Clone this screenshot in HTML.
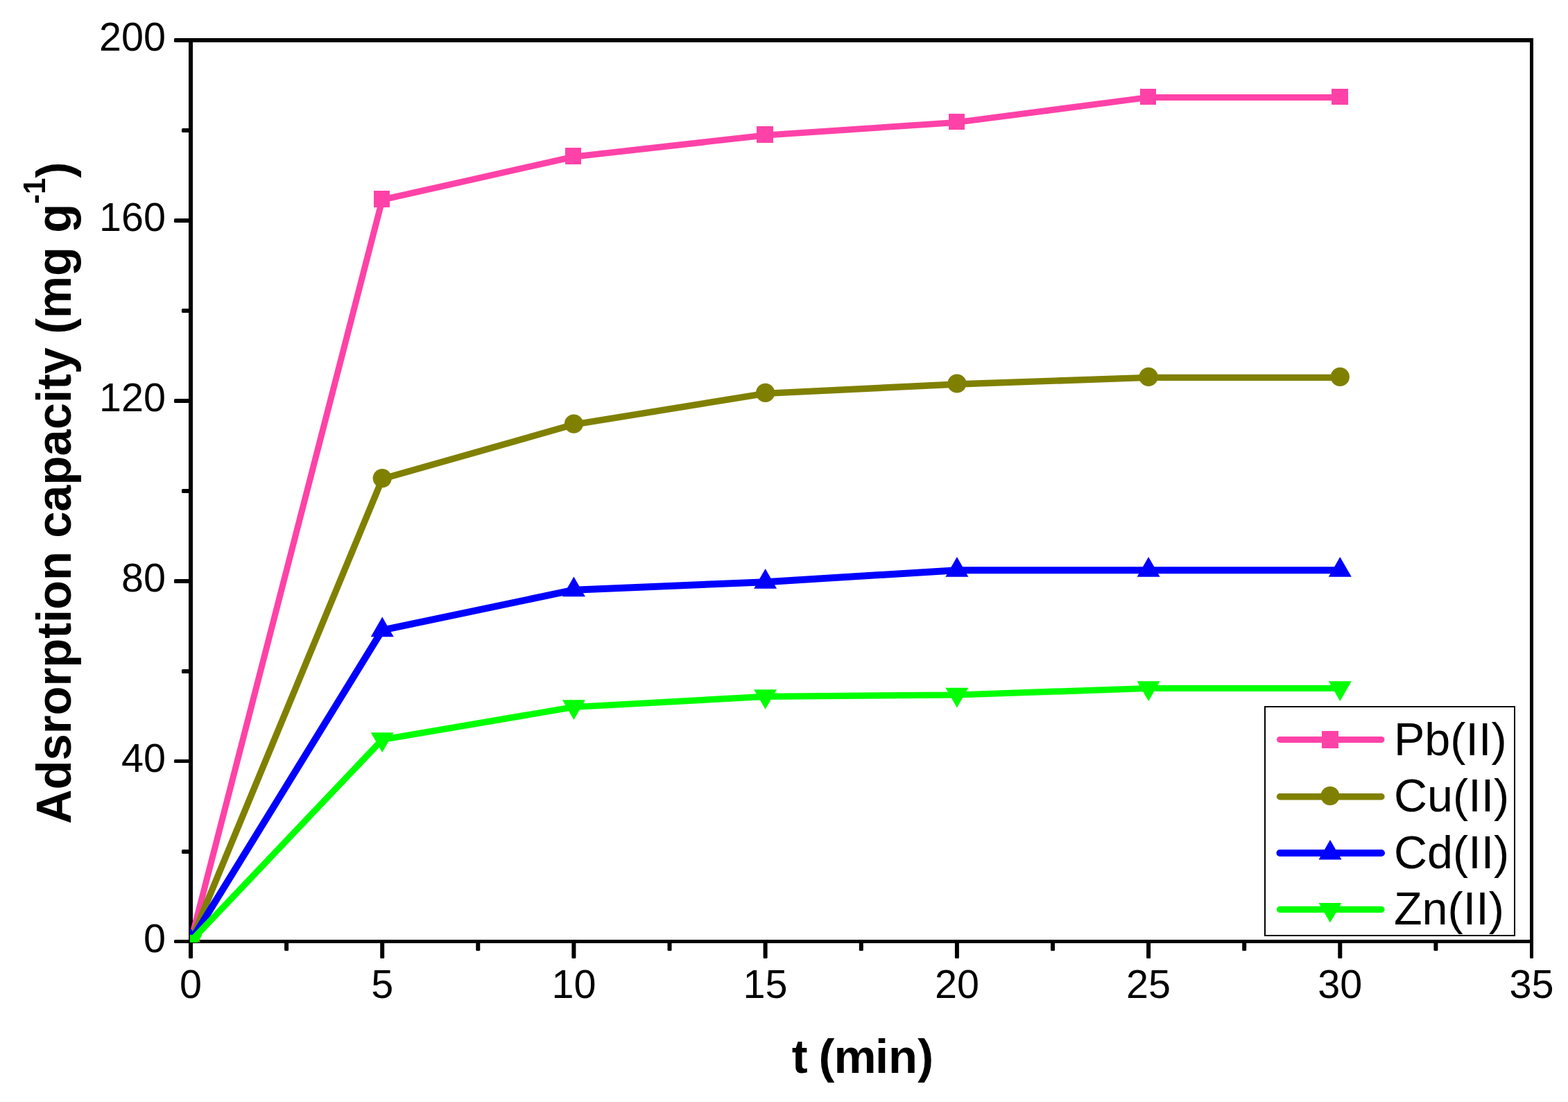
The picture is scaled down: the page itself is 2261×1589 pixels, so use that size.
<!DOCTYPE html>
<html lang="en">
<head>
<meta charset="utf-8">
<title>Adsorption capacity vs t</title>
<style>
html,body{margin:0;padding:0;background:#fff;}
body{width:2261px;height:1589px;overflow:hidden;}
svg{display:block;}
text{font-family:"Liberation Sans",Arial,Helvetica,sans-serif;fill:#000;}
.tick{font-size:57.5px;}
.leg{font-size:66.5px;}
.ttl{font-size:68.7px;font-weight:bold;}
.sup{font-size:42px;font-weight:bold;}
</style>
</head>
<body>
<svg width="2261" height="1589" viewBox="0 0 2261 1589">
<rect x="0" y="0" width="2261" height="1589" fill="#ffffff"/>
<defs><clipPath id="plotclip"><rect x="274" y="50" width="1940" height="1309"/></clipPath></defs>

<g fill="#000" shape-rendering="crispEdges">
<rect x="272" y="55" width="6" height="1305"/>
<rect x="272" y="55" width="1939" height="6"/>
<rect x="2206" y="55" width="5" height="1305"/>
<rect x="272" y="1355" width="1939" height="5"/>
</g>
<g fill="#000">
<rect x="251" y="1355" width="24" height="5" rx="1.5" ry="1.5"/>
<rect x="262" y="1225" width="13" height="6" rx="1.5" ry="1.5"/>
<rect x="251" y="1095" width="24" height="5" rx="1.5" ry="1.5"/>
<rect x="262" y="965" width="13" height="6" rx="1.5" ry="1.5"/>
<rect x="251" y="835" width="24" height="6" rx="1.5" ry="1.5"/>
<rect x="262" y="705" width="13" height="6" rx="1.5" ry="1.5"/>
<rect x="251" y="575" width="24" height="6" rx="1.5" ry="1.5"/>
<rect x="262" y="445" width="13" height="6" rx="1.5" ry="1.5"/>
<rect x="251" y="315" width="24" height="6" rx="1.5" ry="1.5"/>
<rect x="262" y="185" width="13" height="6" rx="1.5" ry="1.5"/>
<rect x="251" y="55" width="24" height="6" rx="1.5" ry="1.5"/>
<rect x="272.0" y="1357" width="6" height="25" rx="1.5" ry="1.5"/>
<rect x="410.1" y="1357" width="6" height="14" rx="1.5" ry="1.5"/>
<rect x="548.2" y="1357" width="6" height="25" rx="1.5" ry="1.5"/>
<rect x="686.3" y="1357" width="6" height="14" rx="1.5" ry="1.5"/>
<rect x="824.4" y="1357" width="6" height="25" rx="1.5" ry="1.5"/>
<rect x="962.5" y="1357" width="6" height="14" rx="1.5" ry="1.5"/>
<rect x="1100.6" y="1357" width="6" height="25" rx="1.5" ry="1.5"/>
<rect x="1238.8" y="1357" width="6" height="14" rx="1.5" ry="1.5"/>
<rect x="1376.9" y="1357" width="6" height="25" rx="1.5" ry="1.5"/>
<rect x="1515.0" y="1357" width="6" height="14" rx="1.5" ry="1.5"/>
<rect x="1653.1" y="1357" width="6" height="25" rx="1.5" ry="1.5"/>
<rect x="1791.2" y="1357" width="6" height="14" rx="1.5" ry="1.5"/>
<rect x="1929.3" y="1357" width="6" height="25" rx="1.5" ry="1.5"/>
<rect x="2067.4" y="1357" width="6" height="14" rx="1.5" ry="1.5"/>
<rect x="2206.0" y="1357" width="5" height="25" rx="1.5" ry="1.5"/>
</g>
<g class="tick" text-anchor="end">
<text x="239" y="1372.8">0</text>
<text x="239" y="1112.9">40</text>
<text x="239" y="853.0">80</text>
<text x="239" y="593.1">120</text>
<text x="239" y="333.2">160</text>
<text x="239" y="73.3">200</text>
</g>
<g class="tick" text-anchor="middle">
<text x="275.0" y="1438.5">0</text>
<text x="551.2" y="1438.5">5</text>
<text x="827.4" y="1438.5">10</text>
<text x="1103.6" y="1438.5">15</text>
<text x="1379.9" y="1438.5">20</text>
<text x="1656.1" y="1438.5">25</text>
<text x="1932.3" y="1438.5">30</text>
<text x="2208.5" y="1438.5">35</text>
</g>
<text class="ttl" x="1141.8 1164 1180.4 1202.4 1261.9 1281.1 1323.2" y="1547">t (min)</text>
<text class="ttl" transform="translate(102.1 1188) rotate(-90) scale(1 1.035)" x="0" y="0">Adsrorption capacity (mg <tspan dx="1">g</tspan><tspan class="sup" dy="-35.7">-1</tspan><tspan dy="35.7">)</tspan></text>
<g clip-path="url(#plotclip)">
<polyline points="275.0,1357.5 551.2,288.0 827.4,226.0 1103.6,195.0 1379.9,176.4 1656.1,140.4 1932.3,140.4" fill="none" stroke="#ff42a8" stroke-width="9" stroke-linejoin="round"/>
<rect x="263.2" y="1345.7" width="23.6" height="23.6" fill="#ff42a8"/>
<rect x="539" y="275" width="23" height="24" fill="#ff42a8"/>
<rect x="815" y="213" width="23" height="24" fill="#ff42a8"/>
<rect x="1091" y="182" width="24" height="24" fill="#ff42a8"/>
<rect x="1368" y="164" width="23" height="23" fill="#ff42a8"/>
<rect x="1644" y="128" width="23" height="23" fill="#ff42a8"/>
<rect x="1920" y="128" width="24" height="23" fill="#ff42a8"/>
<polyline points="275.0,1357.5 551.2,690.6 827.4,612.1 1103.6,567.4 1379.9,554.0 1656.1,544.4 1932.3,544.4" fill="none" stroke="#808000" stroke-width="9.4" stroke-linejoin="round"/>
<circle cx="275.0" cy="1357.5" r="13.6" fill="#808000"/>
<circle cx="551.2" cy="689.6" r="13.6" fill="#808000"/>
<circle cx="827.4" cy="611.1" r="13.6" fill="#808000"/>
<circle cx="1103.6" cy="566.4" r="13.6" fill="#808000"/>
<circle cx="1379.9" cy="553.0" r="13.6" fill="#808000"/>
<circle cx="1656.1" cy="543.4" r="13.6" fill="#808000"/>
<circle cx="1932.3" cy="543.4" r="13.6" fill="#808000"/>
<polyline points="275.0,1357.5 551.2,908.7 827.4,850.7 1103.6,839.2 1379.9,822.2 1656.1,822.2 1932.3,822.2" fill="none" stroke="#0000ff" stroke-width="10" stroke-linejoin="round"/>
<polygon points="275.0,1338.4 291.5,1367.0 258.5,1367.0" fill="#0000ff"/>
<polygon points="551.2,889.6 567.7,918.2 534.7,918.2" fill="#0000ff"/>
<polygon points="827.4,831.6 843.9,860.2 810.9,860.2" fill="#0000ff"/>
<polygon points="1103.6,820.1 1120.1,848.7 1087.1,848.7" fill="#0000ff"/>
<polygon points="1379.9,803.1 1396.4,831.7 1363.4,831.7" fill="#0000ff"/>
<polygon points="1656.1,803.1 1672.6,831.7 1639.6,831.7" fill="#0000ff"/>
<polygon points="1932.3,803.1 1948.8,831.7 1915.8,831.7" fill="#0000ff"/>
<polyline points="275.0,1357.5 551.2,1066.5 827.4,1019.5 1103.6,1004.4 1379.9,1002.0 1656.1,992.5 1932.3,992.5" fill="none" stroke="#00ff00" stroke-width="9.2" stroke-linejoin="round"/>
<polygon points="275.0,1376.6 291.5,1348.0 258.5,1348.0" fill="#00ff00"/>
<polygon points="551.2,1084.9 567.7,1056.3 534.7,1056.3" fill="#00ff00"/>
<polygon points="827.4,1037.9 843.9,1009.3 810.9,1009.3" fill="#00ff00"/>
<polygon points="1103.6,1022.8 1120.1,994.2 1087.1,994.2" fill="#00ff00"/>
<polygon points="1379.9,1020.4 1396.4,991.8 1363.4,991.8" fill="#00ff00"/>
<polygon points="1656.1,1010.9 1672.6,982.3 1639.6,982.3" fill="#00ff00"/>
<polygon points="1932.3,1010.9 1948.8,982.3 1915.8,982.3" fill="#00ff00"/>
</g>
<rect x="1824" y="1019" width="360" height="330" fill="#fff" stroke="#000" stroke-width="2" shape-rendering="crispEdges"/>
<line x1="1845.5" y1="1066.4" x2="1992" y2="1066.4" stroke="#ff42a8" stroke-width="9" stroke-linecap="round"/>
<rect x="1906" y="1054" width="24" height="25" fill="#ff42a8"/>
<text class="leg" x="2010" y="1088.9">Pb(II)</text>
<line x1="1845.5" y1="1148.7" x2="1992" y2="1148.7" stroke="#808000" stroke-width="9.4" stroke-linecap="round"/>
<circle cx="1918.0" cy="1147.6" r="13.6" fill="#808000"/>
<text class="leg" x="2010" y="1170.1">Cu(II)</text>
<line x1="1845.5" y1="1230.0" x2="1992" y2="1230.0" stroke="#0000ff" stroke-width="10" stroke-linecap="round"/>
<polygon points="1918.0,1210.9 1934.5,1239.5 1901.5,1239.5" fill="#0000ff"/>
<text class="leg" x="2010" y="1251.6">Cd(II)</text>
<line x1="1845.5" y1="1311.4" x2="1992" y2="1311.4" stroke="#00ff00" stroke-width="9.2" stroke-linecap="round"/>
<polygon points="1918.0,1330.5 1934.5,1301.9 1901.5,1301.9" fill="#00ff00"/>
<text class="leg" x="2010" y="1332.7">Zn(II)</text>
</svg>
</body>
</html>
